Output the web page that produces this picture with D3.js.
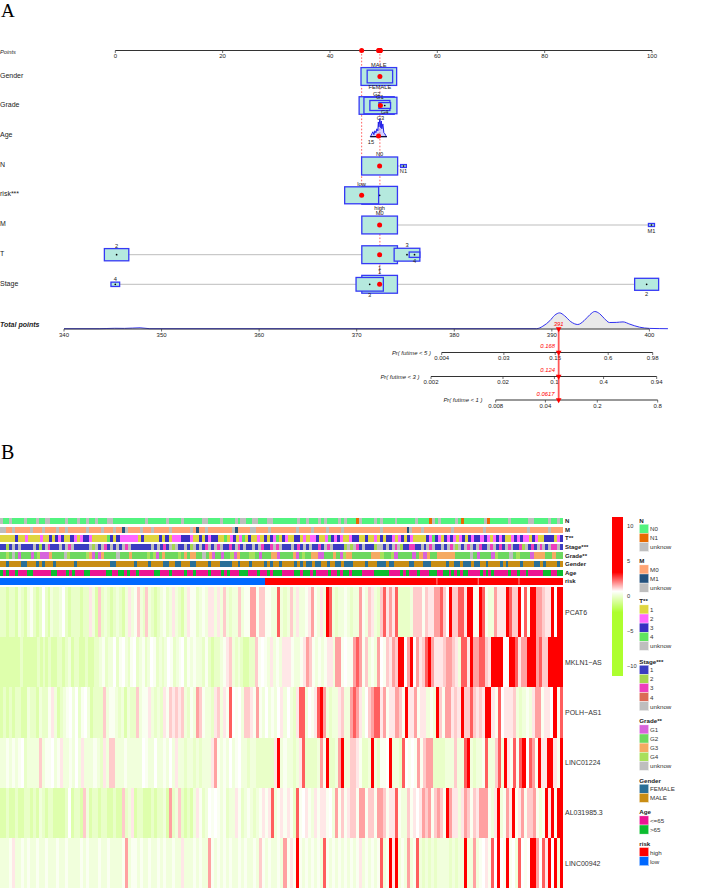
<!DOCTYPE html>
<html><head><meta charset="utf-8">
<script src="https://cdn.jsdelivr.net/npm/d3@7"></script>
<style>html,body{margin:0;padding:0;background:#fff}svg{display:block}text{font-family:"Liberation Sans",Arial,sans-serif;fill:#222}</style>
</head><body><div id="c"></div>
<script>
// ---------- Panel A data ----------
const pointTicks=[0,20,40,60,80,100];
const totalTicks=[340,350,360,370,380,390,400];
const nomoVars=["Gender","Grade","Age","N","risk***","M","T","Stage"];
const genderLevels=["MALE","FEMALE"],genderPts=[49.1,49.3],genderShare=[.98,.5],genderSide=[-1,1];
const gradeLevels=["G2","G3","G1","G4"],gradePts=[48.7,49.4,49.3,50.2],gradeShare=[.95,.84,.31,.105],gradeSide=[-1,1,-1,1];
const nLevels=["N0","N1"],nPts=[49.25,53.7],nShare=[1,.025],nSide=[-1,1];
const riskLevels=["high","low"],riskPts=[49.25,45.9],riskShare=[.98,.89],riskSide=[1,-1];
const mLevels=["M0","M1"],mPts=[49.25,99.9],mShare=[.98,.028],mSide=[-1,1];
const tLevels=["1","3","2","4"],tPts=[49.25,54.35,.24,55.75],tShare=[.98,.51,.46,.088],tSide=[1,-1,-1,1];
const stageLevels=["1","3","2","4"],stagePts=[49.25,47.4,99,0],stageShare=[.98,.575,.444,.058],stageSide=[-1,1,1,-1];
const selectedGender="FEMALE",selectedGrade="G3",selectedN="N0",selectedRisk="low",selectedM="M0",selectedT="1",selectedStage="1";
const selectedAgePts=49.05;
const ageLabel="15";
const agePts=[47.5,47.62,47.8,47.99,48.18,48.36,48.55,48.73,48.92,49.01,49.11,49.29,49.48,49.57,49.66,49.85,50.04,50.22,50.41,50.6];
const ageDensity=[0,1,3,5,2,6,4,8,6,15,10,18,9,16,8,13,4,3,1,0];
const densTotals=[340,343.6,345.2,346.2,347.8,348.8,388.43,389.08,389.8,390.3,390.8,391.3,391.95,392.66,393.3,393.9,394.4,394.9,395.4,395.9,396.6,397.3,398,399,400,401,401.9];
const densHeights=[0,0,.4,.3,.9,0,0,2.5,8,13.5,15.8,13,7,4.2,8,14,17.2,15,10,6.2,6.3,6.8,4.5,1.5,.3,.1,0];
const selectedTotal=390.7,selectedTotalLabel="391";
const probNames=["Pr( futime < 5 )","Pr( futime < 3 )","Pr( futime < 1 )"];
const probTicks5=[.004,.03,.15,.6,.98],probTicks3=[.002,.02,.1,.4,.94],probTicks1=[.008,.04,.2,.8];
const probSelected=[.168,.124,.0617];
// ---------- Panel B data ----------
const heatGenes=["PCAT6","MKLN1\u2212AS","POLH\u2212AS1","LINC01224","AL031985.3","LINC00942"];
const levelValues={a:-.5,b:-.1,c:.2,d:.5,"0":.7,"1":.95,"2":1.25,"3":1.7,"4":2.4,"5":3.4};
const heatPCAT6="bbabbacbacdbab0bacbbc0babbbabb1ca2bcbabcbac1cd2cb2cbabcdbc1cbac1|ddbcdc11c1c2cbcc2cdd33d22ddcc4cbc2c1ccd13dc1c54cbccdcbcc3dc21cb|241314bbbbc222d2113342052244155dd54dcc311154225 04d5533211505 5";
const heatMKLN1="aaaaaaabaaaaabababaabbabcabbaabaabbcdbcc0bd0cbd0bcdbc0dbcbc0dbcd0bd|cdccbdbabbcd12cbcbaabb2d0dc1cdc111dccd132dcdcd11c33d0dd343d2cdc3|0d2132 55 0 3 5 0 3 1 2 4 5 3 111 2 33 2 1 c 44 1 5 33 44 2 1 5555 00 55 4 1 33 555 3 4 22 55555";
const heatPOLH="abababbaacbbacbbd1cabcd0c0bd0cabbb2cddcbcacbb2cdd1cbcb1d21212cb|dc32dccb12c1d40d0c221d3dc0cdc01c0cb144c0d1453cbcc12cc3431c02344|13d1132d5113d11cdc52d33121522421 21 55 1d40111 2cbcdc133d1105d4";
const heatLINC1224="ccdcdcd0bcccc2cdd0cd1ccdc0c1cccdcb1c22cccdccccc0dcc0ccdc0c1ccbc|cbcbccc13dcdc0cd0ccbccbbbbbb15cdccbc14bbbbc3d5bbc35cc221dbbc5cb|dd05ccb40d0d3d233bbbbccc2cc45cbccd4cc24c51d4d450 43d511551d5";
const heatAL03="aabaabaabbabacbabbaaaab0abba2cabbabbaabaa2bc1abbaaababbca3bc2bab|ac1dbc0d0dcdbcc1dbcdcbcd1d14cd1d1db4d01dc1d11d0c3d2d122d33d22d3|32d114dcc2d101323d232d5311c132d21333dc15cd315d13d223dcd515d55";
const heatLINC942="cccd1ccdcdccdccdcccdccdccccdcdcccdccdccccd3cddcdccdccdcdccdcc1cc|cdcdcc3dcdcdcdccdcdccdc2dcdccdc3d1d5dcdcdcdc4dcdcdcdcdcd1cdcdcd|4cd515cdc3cd4cbcbcbccccbcbcc5cc3cd01d4050d5d0c40d0553041505c5";
const trackNames=["N","M","T**","Stage***","Grade**","Gender","Age","risk"];
const trackN="unnunnnnunnnunnuunnnnnunnnunnunnunnnuunnnnnnnnnnnunnnnnnunnnnunn|nnnnuunnnnunnnnunuunnuunnnuunnnnnnnnunnunnnununnnnununnnounnnnun|unnnnunnnnnnunnnnoununnnnnunonnnnnnnuonnnnnnunnnnnnuunnnnnunnun";
const trackM="uunnunnnnnunnnunnnnunnunnnnnnunnnnunnnunnbunnnnunnnunnnnnunnnnnn|unbnnunnnnnnnnubnnnnuunnnnunnnnnnnnunnnnunnnnunnnnunnnnnnnnnnnn|unnnnnnnnbunnnunnnnnnnnnunnnnnnnnnnunnnnnnnnnnnnnnunnnnnnunnnn";
const trackT="11111311211112113132311321233211111431322222213111113131222333|21131323311412312413112131324132113312122311243232112331131121|313321231321111324321323212313233232123231123232213211 333 123";
const trackStage="1121u1u1111u121u3111u1u3u11111u2u1u31u1u1u3u1111111u1u131u2u11u1|2u1u13u1u3u1131u31u11u1u3113u3u111u131u1u1131u3u11112u2u31u1112u|u1u1u3u2113311u1u3u11u1u3u2u1u3u1u311u3u131u3u1132u131u3u1u33u1";
const trackGrade="2242u2122212411132222u4222224312132222u22232222242412322224232|3322u2312212241322244212223312222312422331122232143322222 2333|4224122221231322333332222u2122214222u24222133322322";
const trackGender="MMFMMMMFFMMMFMFMMMFMMMMMMFMMMMMMMMMMMFFMMMMMMFMMMMFMMMMFFMMFFMMM|FFMMMMFMMMFFFFMMFMMMFMMMMFMFMMFMMMMFMFMFFMFFMMFMMFFMFFFMMMMFMMMF|FFMFFMMMMMFFMMMFFFMMMMMFMMFFMFFFMFFMMFMMMMFMFMMMMFMMMMFFMFMMMMFM";
const trackAge="GPGPPGPPPGGPPPPPPGGPPPGPGPPPGGPPPPPGGPPGGPGPPGPPPPPGGPPPGPPPPGP|PGPPPPGPPPGPGPPPGGGPPPGPPGPGGGPPPPGGPGGPGPPPPGPPGPGGPGGGPPPPGG|GGGPPPPGPGPPPGPPPGGGPPGGPGPGPGGPPPPGPGPGPPPPPGPPGPPGPPPPPGGGPPGG";
const trackRisk="llllllllll llllllllll llllllllll llllllllll llllllllll llllllllll lll|llllllllll llllllllll lllll hhhhhhhhhh hhhhhhhhhh hhhhhhhhhh hhhhhhhh|hhhhhhhhhh hhhhhhhhhh hhhhhhhhhh hhhhhhhhhh hhhhhhhhhh hhhhhhhhhh h";
const riskBreakCols=[19,32.8,46.4];
const catColors={N:{n:"#52f37f",o:"#e76a00",u:"#bebebe"},M:{n:"#ffa474",b:"#24527e",u:"#bebebe"},T:{"1":"#dfd540","2":"#ff66ff","3":"#3a2fc2","4":"#5fe35f",u:"#bebebe"},S:{"1":"#3b3dc2","2":"#a5d650","3":"#ee3ebc","4":"#db6a55",u:"#bebebe"},G:{"1":"#d763dc","2":"#6dd85f","3":"#f5aa62","4":"#a8e05a",u:"#bebebe"},X:{F:"#2a6f97",M:"#c98d14"},A:{P:"#ec1493",G:"#0cbc2f"},R:{h:"#ff0000",l:"#0068ff"}};
const legendTitles=["N","M","T**","Stage***","Grade**","Gender","Age","risk"];
const legendLabels=[["N0","N1","unknow"],["M0","M1","unknow"],["1","2","3","4","unknow"],["1","2","3","4","unknow"],["G1","G2","G3","G4","unknow"],["FEMALE","MALE"],["<=65",">65"],["high","low"]];
const legendColors=[["#52f37f","#e76a00","#bebebe"],["#ffa474","#24527e","#bebebe"],["#dfd540","#ff66ff","#3a2fc2","#5fe35f","#bebebe"],["#3b3dc2","#a5d650","#ee3ebc","#db6a55","#bebebe"],["#d763dc","#6dd85f","#f5aa62","#a8e05a","#bebebe"],["#2a6f97","#c98d14"],["#ec1493","#0cbc2f"],["#ff0000","#0068ff"]];
const colorTicks=[10,5,0,-5,-10];

// ---------- drawing ----------
const W=709,H=888;
const svg=d3.select("#c").append("svg").attr("width",W).attr("height",H).attr("viewBox",[0,0,W,H]);
const txt=(g,x,y,s,size,o={})=>g.append("text").attr("x",x).attr("y",y).attr("font-size",size).attr("dominant-baseline",o.base||"central").attr("text-anchor",o.anchor||"start").attr("font-style",o.italic?"italic":null).attr("font-weight",o.bold?"bold":null).style("fill",o.fill||"#222").text(s);
txt(svg,1,17,"A",19,{base:"auto"}).style("font-family","'Liberation Serif',serif").style("fill","#000");
txt(svg,1,459,"B",20,{base:"auto"}).style("font-family","'Liberation Serif',serif").style("fill","#000");

const xP=d3.scaleLinear().domain([0,100]).range([115.3,652]);
const xT=d3.scaleLinear().domain([340,400]).range([64,649.4]);
const sizeW=d3.scaleSqrt().domain([0,1]).range([0,36]);
const rowY=d3.scaleOrdinal().domain(nomoVars).range([76.5,105.5,136,166,195.3,225,254.7,284.3]);
const A=svg.append("g");
function axisLine(scale,y,ticks,fmt,labelDy=5.5,size=6){
  const g=A.append("g");
  const r=scale.range();
  g.append("line").attr("x1",r[0]).attr("x2",r[r.length-1]).attr("y1",y).attr("y2",y).attr("stroke","#333").attr("stroke-width",1.1);
  ticks.forEach(t=>{g.append("line").attr("x1",scale(t)).attr("x2",scale(t)).attr("y1",y).attr("y2",y+2.5).attr("stroke","#333").attr("stroke-width",.7);
    txt(g,scale(t),y+labelDy,fmt?fmt(t):t,size,{anchor:"middle"});});
}
txt(A,0,52,"Points",5.7,{italic:true});
const labelYs=[75,104.5,134.5,164,193.5,223,253,283];
nomoVars.forEach((v,i)=>txt(A,0,labelYs[i],v,7));
txt(A,0,324.5,"Total points",7,{italic:true,bold:true});

const densData=densTotals.map((t,i)=>({t,h:densHeights[i]}));
const hS=d3.scaleLinear().domain([0,20]).range([328.7,308.7]);
A.append("path").datum(densData.filter(d=>d.t>=388.4&&d.t<=400)).attr("fill","#eaeaea")
 .attr("d",d3.area().x(d=>xT(d.t)).y0(hS(0)).y1(d=>hS(d.h)).curve(d3.curveMonotoneX));
A.append("path").datum(densData).attr("fill","none").attr("stroke","#3030f0").attr("stroke-width",1)
 .attr("d",d3.line().x(d=>xT(d.t)).y(d=>hS(d.h)).curve(d3.curveMonotoneX));
axisLine(xP,50.5,pointTicks);
axisLine(xT,329,totalTicks);

const rows=[["Gender",genderLevels,genderPts,genderShare,genderSide,selectedGender],
["Grade",gradeLevels,gradePts,gradeShare,gradeSide,selectedGrade],
["N",nLevels,nPts,nShare,nSide,selectedN],
["risk***",riskLevels,riskPts,riskShare,riskSide,selectedRisk],
["M",mLevels,mPts,mShare,mSide,selectedM],
["T",tLevels,tPts,tShare,tSide,selectedT],
["Stage",stageLevels,stagePts,stageShare,stageSide,selectedStage]];
const guide=A.append("g").attr("stroke","#ff5050").attr("stroke-width",.9).attr("stroke-dasharray","1.6 1.8");
const marks=A.append("g");
const dots=[];
rows.forEach(([v,labs,pts,share,side,sel])=>{
  const y=rowY(v);
  marks.append("line").attr("x1",xP(d3.min(pts))).attr("x2",xP(d3.max(pts))).attr("y1",y).attr("y2",y).attr("stroke","#bdbdbd").attr("stroke-width",1);
  labs.map((l,i)=>({l,p:pts[i],s:share[i],side:side[i]})).sort((a,b)=>b.s-a.s).forEach(d=>{
    const w=sizeW(d.s),h=w/2,cx=xP(d.p);
    marks.append("rect").attr("x",cx-w/2).attr("y",y-h/2).attr("width",w).attr("height",h).attr("fill","#b5e9de").attr("stroke","#3538f5").attr("stroke-width",1.3);
    marks.append("circle").attr("cx",cx).attr("cy",y).attr("r",.85).attr("fill","#000");
    txt(marks,cx,y+d.side*(h/2+(d.side<0?3:4)),d.l,5.7,{anchor:"middle"});
    if(d.l===sel)dots.push({cx,y,p:d.p});
  });
});
{
 const y=136.7;
 const ageY=d3.scaleLinear().domain([0,18]).range([y,119]);
 const dd=agePts.map((p,i)=>({p,h:ageDensity[i]}));
 marks.append("path").datum(dd).attr("fill","rgba(150,150,255,.45)").attr("stroke","#2020e8").attr("stroke-width",1)
  .attr("d",d3.area().x(d=>xP(d.p)).y0(y).y1(d=>ageY(d.h)));
 marks.append("line").attr("x1",xP(agePts[0])).attr("x2",xP(agePts[agePts.length-1])).attr("y1",y).attr("y2",y).attr("stroke","#000").attr("stroke-width",1);
 txt(marks,xP(agePts[0])+.7,141.5,ageLabel,5.7,{anchor:"middle"});
 dots.push({cx:xP(selectedAgePts),y:136,p:selectedAgePts});
}
guide.append("line").attr("x1",xP(riskPts[1])).attr("x2",xP(riskPts[1])).attr("y1",50.5).attr("y2",rowY("risk***"));
guide.append("line").attr("x1",xP(49.3)).attr("x2",xP(49.3)).attr("y1",50.5).attr("y2",rowY("Stage"));
dots.forEach(d=>{
  marks.append("circle").attr("cx",d.cx).attr("cy",d.y).attr("r",2.5).attr("fill","#ff0000");
  marks.append("circle").attr("cx",d.cx).attr("cy",50.5).attr("r",2.5).attr("fill","#ff0000");
});

const cll=p=>Math.log(-Math.log(1-p));
const probAxes=[{t:probTicks5,y:352.5,r:[441.7,652.7],lab:431},{t:probTicks3,y:376.5,r:[431,656.7],lab:419.5},{t:probTicks1,y:400,r:[495.7,657.7],lab:482.5}];
const redX=xT(selectedTotal);
probAxes.forEach((a,i)=>{
  const s=d3.scaleLinear().domain([cll(a.t[0]),cll(a.t[a.t.length-1])]).range(a.r);
  const g=A.append("g");
  g.append("line").attr("x1",a.r[0]).attr("x2",a.r[1]).attr("y1",a.y).attr("y2",a.y).attr("stroke","#333").attr("stroke-width",1.1);
  a.t.forEach(t=>{g.append("line").attr("x1",s(cll(t))).attr("x2",s(cll(t))).attr("y1",a.y).attr("y2",a.y+2.5).attr("stroke","#333").attr("stroke-width",.7);
    txt(g,s(cll(t)),a.y+5.5,String(t),6,{anchor:"middle"});});
  txt(g,a.lab,a.y,probNames[i],5.9,{anchor:"end",italic:true});
});
A.append("line").attr("x1",redX).attr("x2",redX).attr("y1",329).attr("y2",400).attr("stroke","#ff2020").attr("stroke-width",1.8).attr("opacity",.75);
[329,352.5,376.5,400].forEach(y=>A.append("path").attr("d",d3.symbol(d3.symbolTriangle,14)()).attr("transform",`translate(${redX},${y}) rotate(180)`).attr("fill","#f00"));
txt(A,redX,324,selectedTotalLabel,5.9,{anchor:"middle",italic:true,fill:"#f00"});
const probLabelX=[555,555,554.5];
probSelected.forEach((p,i)=>txt(A,probLabelX[i],[345.7,369.7,393.7][i],String(p),5.9,{anchor:"end",italic:true,fill:"#f00"}));

// ---------- Heatmap ----------
const B=svg.append("g").attr("shape-rendering","crispEdges");
const heatColor=d3.scaleLinear().domain([-2.3,.7,3.4]).range(["#adff2f","#ffffff","#ff0000"]).clamp(true);
const chunkEdges=[0,190,380,562.7];
// each row string holds three "|"-separated reading spans, each mapped onto its own stretch of the x axis
function cells(str){
  return str.replace(/\s/g,"").split("|").flatMap((chunk,k)=>{
    const x=d3.scaleLinear().domain([0,chunk.length]).range([chunkEdges[k],chunkEdges[k+1]]);
    return chunk.split("").map((c,i)=>({c,x0:x(i),x1:x(i+1)}));
  });
}
const heatRows=[heatPCAT6,heatMKLN1,heatPOLH,heatLINC1224,heatAL03,heatLINC942];
const yH=d3.scaleBand().domain(heatGenes).range([587,888]);
heatRows.forEach((s,r)=>{
  B.append("g").selectAll("rect").data(cells(s)).join("rect")
   .attr("x",d=>d.x0).attr("width",d=>d.x1-d.x0+.5).attr("y",yH(heatGenes[r])).attr("height",yH.bandwidth()).attr("fill",d=>heatColor(levelValues[d.c]));
  txt(svg,565,yH(heatGenes[r])+yH.bandwidth()/2+.2,heatGenes[r],7,{fill:"#333"});
});
const trackData=[[trackN,catColors.N],[trackM,catColors.M],[trackT,catColors.T],[trackStage,catColors.S],[trackGrade,catColors.G],[trackGender,catColors.X],[trackAge,catColors.A],[trackRisk,catColors.R]];
const yT=d3.scaleBand().domain(trackNames).range([518,584.6]).paddingInner(.25).paddingOuter(0);
trackData.forEach(([str,cols],r)=>{
  B.append("g").selectAll("rect").data(cells(str)).join("rect")
   .attr("x",d=>d.x0).attr("width",d=>d.x1-d.x0+.5).attr("y",yT(trackNames[r])).attr("height",yT.bandwidth()).attr("fill",d=>cols[d.c]);
  txt(svg,565,yT(trackNames[r])+yT.bandwidth()/2,trackNames[r],6,{bold:true});
});
{
 const xb=d3.scaleLinear().domain([0,61]).range([380,562.7]);
 riskBreakCols.forEach(c=>svg.append("line").attr("x1",xb(c)).attr("x2",xb(c)).attr("y1",yT("risk")).attr("y2",yT("risk")+yT.bandwidth()).attr("stroke","#ffd0d0").attr("stroke-width",.7));
}

// ---------- Legends ----------
const L=svg.append("g");
const cY=d3.scaleLinear().domain([11.3,-11.4]).range([517,676]);
const cBar=L.append("g").attr("shape-rendering","crispEdges");
d3.range(517,676).forEach(y=>cBar.append("rect").attr("x",612.3).attr("y",y).attr("width",10.8).attr("height",1.2).attr("fill",heatColor(cY.invert(y+.5))));
colorTicks.forEach(t=>txt(L,627,cY(t),String(t).replace("-","\u2212"),5.7,{fill:"#333"}));
const legendTop=[520,560.7,600.7,661,720.7,780,811.7,843.3];
const swatch=d3.scaleLinear().domain([0,1]).range([0,9.1]);
legendTitles.forEach((t,i)=>{
  txt(L,639.3,legendTop[i],t,6.2,{bold:true});
  legendLabels[i].forEach((l,j)=>{
    L.append("rect").attr("x",639.3).attr("y",legendTop[i]+4.2+swatch(j)).attr("width",9.4).attr("height",swatch(1)).attr("fill",legendColors[i][j]).attr("stroke","#fff").attr("stroke-width",.4);
    txt(L,650,legendTop[i]+4.2+swatch(j)+swatch(1)/2,l,6.2,{fill:"#333"});
  });
});
</script></body></html>
